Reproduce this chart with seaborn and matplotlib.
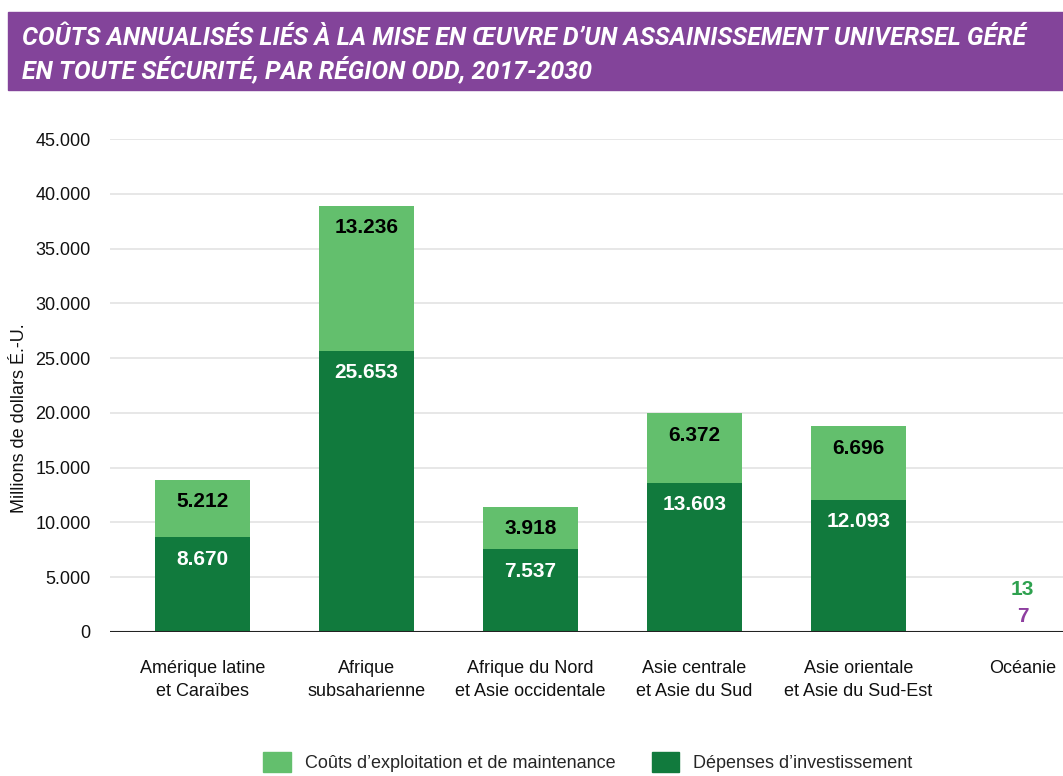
import numpy as np
import pandas as pd
import matplotlib.pyplot as plt
import matplotlib.patches as mpatches
from matplotlib.ticker import FuncFormatter
import seaborn as sns

regions = ["Amérique latine\net Caraïbes", "Afrique\nsubsaharienne",
           "Afrique du Nord\net Asie occidentale", "Asie centrale\net Asie du Sud",
           "Asie orientale\net Asie du Sud-Est", "Océanie"]
investissement = [8670, 25653, 7537, 13603, 12093, 7]
exploitation = [5212, 13236, 3918, 6372, 6696, 13]

dark = "#117a3d"
light = "#63bf6d"
purple = "#83449a"

df = pd.DataFrame({"region": regions, "invest": investissement, "om": exploitation})
df["total"] = df["invest"] + df["om"]

def fr(v, pos=None):
    return f"{int(v):,}".replace(",", ".")

sns.set_style("white")
plt.rcParams["font.family"] = ["Liberation Sans", "DejaVu Sans"]

fig = plt.figure(figsize=(10.63, 7.76), dpi=100)
ax = fig.add_axes([110/1063, 1 - 632/776, 1 - 110/1063, (632 - 139)/776])

sns.barplot(data=df, x="region", y="total", color=light, saturation=1, width=0.58,
            linewidth=0, ax=ax)
sns.barplot(data=df, x="region", y="invest", color=dark, saturation=1, width=0.58,
            linewidth=0, ax=ax)

ax.set_xlim(-0.564, 5.247)
ax.set_ylim(0, 45000)
ax.set_yticks(np.arange(0, 45001, 5000))
ax.yaxis.set_major_formatter(FuncFormatter(fr))
ax.grid(axis="y", color="#e3e3e3", linewidth=1.2)
ax.set_axisbelow(True)
for s in ["top", "right", "left", "bottom"]:
    ax.spines[s].set_visible(False)
ax.axhline(0, color="#222222", linewidth=1.5, zorder=5)
ax.tick_params(axis="y", length=0, pad=14, labelsize=13, labelcolor="#111111")
ax.tick_params(axis="x", length=0, pad=20, labelsize=13, labelcolor="#111111")
for t in ax.get_xticklabels():
    t.set_linespacing(1.45)
ax.set_xlabel("")
ax.set_ylabel("Millions de dollars É.-U.", fontsize=13, color="#111111")
ax.yaxis.set_label_coords(-0.086, 0.434)

for i, row in df.iterrows():
    if i < len(df) - 1:
        ax.annotate(fr(row["om"]), (i, row["total"]), xytext=(0, -22),
                    textcoords="offset pixels", ha="center", va="center",
                    fontsize=15, fontweight="bold", color="black")
        ax.annotate(fr(row["invest"]), (i, row["invest"]), xytext=(0, -22),
                    textcoords="offset pixels", ha="center", va="center",
                    fontsize=15, fontweight="bold", color="white")
    else:
        ax.annotate(fr(row["om"]), (i, row["total"]), xytext=(0, 42),
                    textcoords="offset pixels", ha="center", va="center",
                    fontsize=15, fontweight="bold", color="#2ea14f")
        ax.annotate(fr(row["invest"]), (i, row["invest"]), xytext=(0, 15),
                    textcoords="offset pixels", ha="center", va="center",
                    fontsize=15, fontweight="bold", color="#8e3fa0")

# title band
fig.patches.append(mpatches.Rectangle((8/1063, 1 - 90/776), 1 - 8/1063, 78/776,
                                      transform=fig.transFigure, color=purple, zorder=0))
title_font = ["Roboto", "DejaVu Sans"]
fig.text(22/1063, 1 - 38/776, "COÛTS ANNUALISÉS LIÉS À LA MISE EN ŒUVRE D’UN ASSAINISSEMENT UNIVERSEL GÉRÉ",
         family=title_font, fontsize=18, fontweight="bold", fontstyle="italic",
         color="white", va="center", ha="left")
fig.text(22/1063, 1 - 69/776, "EN TOUTE SÉCURITÉ, PAR RÉGION ODD, 2017-2030",
         family=title_font, fontsize=18, fontweight="bold", fontstyle="italic",
         color="white", va="center", ha="left")

handles = [mpatches.Patch(color=light, label="Coûts d’exploitation et de maintenance"),
           mpatches.Patch(color=dark, label="Dépenses d’investissement")]
fig.legend(handles=handles, loc="center", bbox_to_anchor=(588/1063, 1 - 762/776),
           ncol=2, frameon=False, fontsize=13, handlelength=1.5, handleheight=1.3,
           columnspacing=2.0, handletextpad=0.8, borderpad=0.1)

fig.savefig("out.png", dpi=100)
